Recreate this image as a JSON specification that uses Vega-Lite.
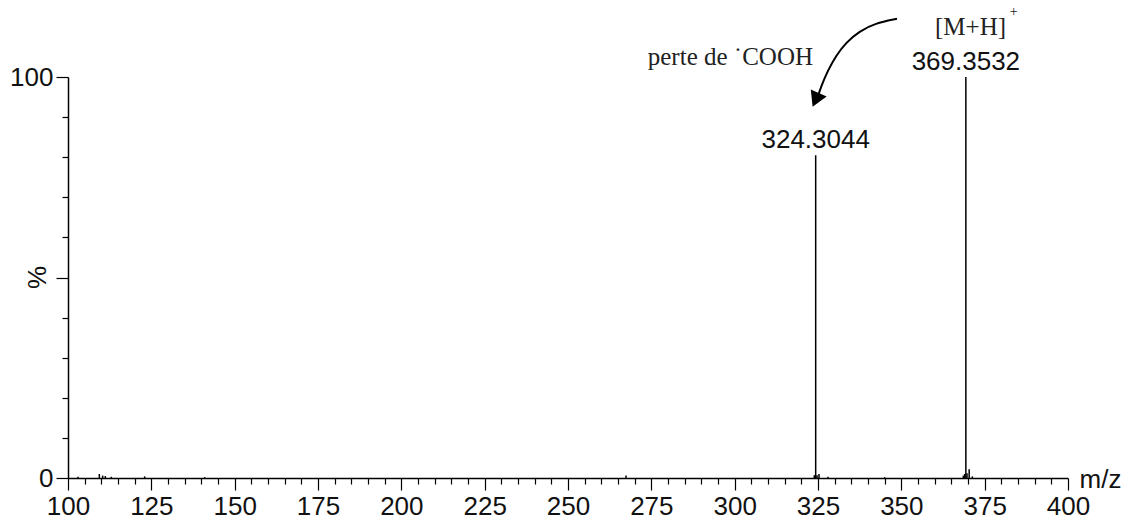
{
  "$schema": "https://vega.github.io/schema/vega-lite/v6.json",
  "width": 1000,
  "height": 401,
  "autosize": {"type": "none"},
  "padding": {"left": 68, "top": 77, "right": 59, "bottom": 40},
  "background": "white",
  "config": {"view": {"stroke": null}},
  "resolve": {"axis": {"x": "independent", "y": "independent"}},
  "datasets": {
    "spectrum": [
      {"mz": 103.0, "i": 0.3},
      {"mz": 109.4, "i": 1.0},
      {"mz": 110.4, "i": 0.6},
      {"mz": 111.2, "i": 0.5},
      {"mz": 113.0, "i": 0.3},
      {"mz": 123.0, "i": 0.4},
      {"mz": 141.0, "i": 0.2},
      {"mz": 267.4, "i": 0.6},
      {"mz": 323.9, "i": 0.7},
      {"mz": 324.3044, "i": 80.5},
      {"mz": 324.7, "i": 0.7},
      {"mz": 325.3, "i": 1.0},
      {"mz": 328.0, "i": 0.3},
      {"mz": 345.0, "i": 0.2},
      {"mz": 368.6, "i": 0.6},
      {"mz": 369.0, "i": 1.0},
      {"mz": 369.3532, "i": 100},
      {"mz": 369.7, "i": 1.2},
      {"mz": 370.35, "i": 2.2},
      {"mz": 371.3, "i": 0.4}
    ],
    "peaklabels": [
      {"mz": 324.3044, "i": 80.5, "label": "324.3044"},
      {"mz": 369.3532, "i": 100, "label": "369.3532"}
    ],
    "arrow": [
      {"k": 1, "mz": 348.7, "i": 114.5},
      {"k": 2, "mz": 342.1, "i": 113.4},
      {"k": 3, "mz": 337.4, "i": 111.4},
      {"k": 4, "mz": 333.4, "i": 108.6},
      {"k": 5, "mz": 330.4, "i": 105.3},
      {"k": 6, "mz": 328.0, "i": 101.7},
      {"k": 7, "mz": 326.0, "i": 97.8},
      {"k": 8, "mz": 324.9, "i": 95.0}
    ],
    "arrowhead": [
      {"mz": 324.3, "i": 94.3}
    ],
    "note1": [
      {"mz": 323.5, "i": 103.0, "text": "perte de ˙COOH"}
    ],
    "note2": [
      {"mz": 360.1, "i": 110.5, "text": "[M+H]"}
    ],
    "sup": [
      {"mz": 382.5, "i": 115.2, "text": "+"}
    ],
    "ticks": [
      {"mz": 100, "i": 0}
    ]
  },
  "layer": [
    {
      "data": {"name": "spectrum"},
      "mark": {"type": "rule", "color": "black", "strokeWidth": 1.5, "clip": false},
      "encoding": {
        "x": {
          "field": "mz", "type": "quantitative",
          "scale": {"domain": [100, 400], "nice": false, "zero": false},
          "axis": {
            "orient": "bottom",
            "values": [100,125,150,175,200,225,250,275,300,325,350,375,400],
            "tickSize": 12,
            "tickColor": "black",
            "tickWidth": 1.2,
            "domainColor": "black",
            "domainWidth": 1.5,
            "grid": false,
            "labelFont": "Liberation Sans",
            "labelFontSize": 26,
            "labelColor": "#111",
            "labelPadding": 3,
            "labelFlush": false,
            "labelOverlap": false,
            "labelBound": false,
            "title": "m/z",
            "titleFont": "Liberation Sans",
            "titleFontSize": 26,
            "titleFontWeight": "normal",
            "titleColor": "#111",
            "titleAlign": "left",
            "titleBaseline": "alphabetic",
            "titleX": 1011,
            "titleY": 9,
            "titleAngle": 0
          }
        },
        "y": {
          "field": "i", "type": "quantitative",
          "scale": {"domain": [0, 100], "nice": false},
          "axis": {
            "orient": "left",
            "values": [0, 50, 100],
            "labelExpr": "datum.value === 50 ? '' : datum.label",
            "tickSize": 12,
            "tickColor": "black",
            "tickWidth": 1.2,
            "domainColor": "black",
            "domainWidth": 1.5,
            "grid": false,
            "labelFont": "Liberation Sans",
            "labelFontSize": 26,
            "labelColor": "#111",
            "labelPadding": 3,
            "labelFlush": false,
            "labelOverlap": false,
            "title": "%",
            "titleFont": "Liberation Sans",
            "titleFontSize": 26,
            "titleFontWeight": "normal",
            "titleColor": "#111",
            "titleAngle": -90,
            "titleAlign": "center",
            "titleBaseline": "alphabetic",
            "titleX": -23,
            "titleY": 200
          }
        },
        "y2": {"datum": 0}
      }
    },
    {
      "data": {"name": "ticks"},
      "mark": {"type": "point", "opacity": 0, "clip": false},
      "encoding": {
        "x": {
          "field": "mz", "type": "quantitative",
          "axis": {
            "orient": "bottom",
            "values": [105,110,115,120,130,135,140,145,155,160,165,170,180,185,190,195,205,210,215,220,230,235,240,245,255,260,265,270,280,285,290,295,305,310,315,320,330,335,340,345,355,360,365,370,380,385,390,395],
            "tickSize": 6,
            "tickColor": "black",
            "tickWidth": 1.2,
            "domain": false,
            "labels": false,
            "grid": false,
            "title": null
          }
        },
        "y": {
          "field": "i", "type": "quantitative",
          "axis": {
            "orient": "left",
            "values": [10,20,30,40,60,70,80,90],
            "tickSize": 6,
            "tickColor": "black",
            "tickWidth": 1.2,
            "domain": false,
            "labels": false,
            "grid": false,
            "title": null
          }
        }
      }
    },
    {
      "data": {"name": "peaklabels"},
      "mark": {"type": "text", "font": "Liberation Sans", "fontSize": 26, "color": "#111", "baseline": "alphabetic", "align": "center", "dy": -7, "clip": false},
      "encoding": {
        "x": {"field": "mz", "type": "quantitative", "axis": null},
        "y": {"field": "i", "type": "quantitative", "axis": null},
        "text": {"field": "label"}
      }
    },
    {
      "data": {"name": "arrow"},
      "mark": {"type": "line", "color": "black", "strokeWidth": 2, "interpolate": "basis", "clip": false},
      "encoding": {
        "x": {"field": "mz", "type": "quantitative", "axis": null},
        "y": {"field": "i", "type": "quantitative", "axis": null},
        "order": {"field": "k", "type": "quantitative"}
      }
    },
    {
      "data": {"name": "arrowhead"},
      "mark": {"type": "point", "shape": "triangle-down", "filled": true, "color": "black", "opacity": 1, "size": 300, "angle": 24, "clip": false},
      "encoding": {
        "x": {"field": "mz", "type": "quantitative", "axis": null},
        "y": {"field": "i", "type": "quantitative", "axis": null}
      }
    },
    {
      "data": {"name": "note1"},
      "mark": {"type": "text", "font": "Liberation Serif", "fontSize": 25, "color": "#222", "baseline": "alphabetic", "align": "right", "clip": false},
      "encoding": {
        "x": {"field": "mz", "type": "quantitative", "axis": null},
        "y": {"field": "i", "type": "quantitative", "axis": null},
        "text": {"field": "text"}
      }
    },
    {
      "data": {"name": "note2"},
      "mark": {"type": "text", "font": "Liberation Serif", "fontSize": 25, "color": "#222", "baseline": "alphabetic", "align": "left", "clip": false},
      "encoding": {
        "x": {"field": "mz", "type": "quantitative", "axis": null},
        "y": {"field": "i", "type": "quantitative", "axis": null},
        "text": {"field": "text"}
      }
    },
    {
      "data": {"name": "sup"},
      "mark": {"type": "text", "font": "Liberation Serif", "fontSize": 14, "color": "#222", "baseline": "alphabetic", "align": "left", "clip": false},
      "encoding": {
        "x": {"field": "mz", "type": "quantitative", "axis": null},
        "y": {"field": "i", "type": "quantitative", "axis": null},
        "text": {"field": "text"}
      }
    }
  ]
}
